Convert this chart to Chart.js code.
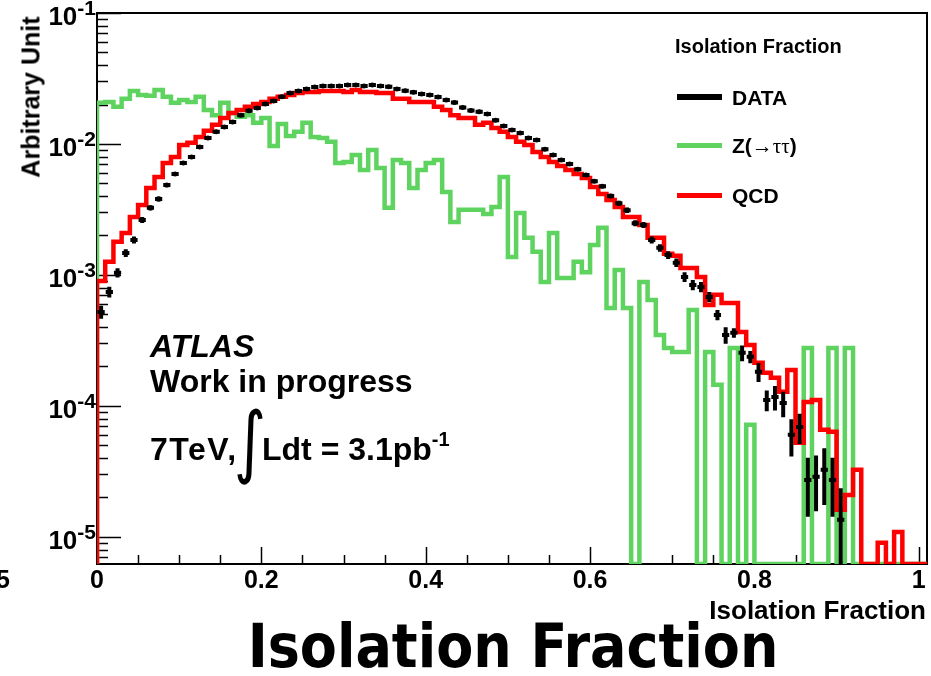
<!DOCTYPE html>
<html>
<head>
<meta charset="utf-8">
<title>Isolation Fraction</title>
<script src="https://cdn.jsdelivr.net/npm/chart.js@4.4.1/dist/chart.umd.min.js"></script>
<style>
  html, body { margin: 0; padding: 0; background: #fff; }
  #wrap {
    position: relative; width: 931px; height: 676px; overflow: hidden;
    font-family: "Liberation Sans", Arial, Helvetica, sans-serif;
    font-weight: bold; color: #000;
  }
  #plot { position: absolute; left: 0; top: 0; }
  .t { position: absolute; white-space: nowrap; line-height: 1; }
  .tick { font-size: 25px; }
  .ytick { font-size: 26px; }
  .ytick sup { font-size: 21px; vertical-align: 0; position: relative; top: -10px; }
  #ytitle { font-size: 25px; width: 200px; left: -69px; top: 104px; text-align: right; transform: rotate(-90deg); }
  #xtitle { font-size: 26px; right: 5px; top: 597px; }
  #bigtitle {
    font-family: "Liberation Sans Narrow", "DejaVu Sans Condensed", "Liberation Sans", sans-serif;
    font-stretch: condensed; font-size: 60px; left: 513px; top: 616px; transform: translateX(-50%);
  }
  #cut5 { font-size: 25px; left: -4px; top: 567px; }
  #leghead { font-size: 20px; left: 675px; top: 36px; }
  .legline { position: absolute; left: 677px; width: 45px; }
  .legtext { font-size: 21px; left: 732px; }
  .serif { font-family: "Liberation Serif", "DejaVu Serif", serif; font-weight: normal; }
  #atlas { font-size: 32px; font-style: italic; left: 150px; top: 330px; }
  #wip { font-size: 32px; left: 150px; top: 365px; }
  #lumi1 { font-size: 32px; left: 150px; top: 433px; letter-spacing: 1.5px; }
  #lumi2 { font-size: 32px; left: 262px; top: 433px; }
  #lumi2 sup { font-size: 20px; vertical-align: 0; position: relative; top: -14px; }
  #integral { font-family: "DejaVu Sans", sans-serif; font-weight: normal; font-size: 62px; left: 234px; top: 402px; transform: scaleY(1.27); transform-origin: 0 0; }
</style>
</head>
<body>
<div id="wrap">
  <canvas id="plot" width="931" height="676"></canvas>
  <div class="t" id="ytitle">Arbitrary Unit</div>
  <div class="t" id="xtitle">Isolation Fraction</div>
  <div class="t" id="bigtitle">Isolation Fraction</div>
  <div class="t" id="cut5">5</div>
  <div class="t" id="leghead">Isolation Fraction</div>
  <div class="t" id="atlas">ATLAS</div>
  <div class="t" id="wip">Work in progress</div>
  <div class="t" id="lumi1">7TeV,</div>
  <div class="t" id="integral">∫</div>
  <div class="t" id="lumi2">Ldt = 3.1pb<sup>-1</sup></div>
</div>
<script>
// 101 bins of width 0.01 starting at 0
const binWidth = 0.01;
const xMax = 1.01;
const yMin = 6.2e-6;
const yMax = 0.1;

const seriesNames = ['DATA', 'Z(→ττ)', 'QCD'];

const dataValues = [
  5.22e-4, 7.42e-4, 1.04e-3, 1.47e-3, 1.85e-3, 2.63e-3, 3.25e-3, 3.80e-3, 4.86e-3, 5.90e-3,
  7.16e-3, 7.96e-3, 9.49e-3, 0.0111, 0.0124, 0.0135, 0.0147, 0.0166, 0.0179, 0.0188,
  0.0202, 0.0213, 0.0229, 0.0245, 0.0254, 0.0263, 0.0272, 0.0277, 0.0277, 0.0277,
  0.0282, 0.0282, 0.0277, 0.0282, 0.0277, 0.0273, 0.0263, 0.0255, 0.0248, 0.0241,
  0.0236, 0.0228, 0.0217, 0.0207, 0.0190, 0.0180, 0.0176, 0.0169, 0.0152, 0.0137,
  0.0128, 0.0121, 0.0111, 0.0107, 9.11e-3, 8.24e-3, 7.55e-3, 7.04e-3, 6.40e-3, 5.80e-3,
  5.20e-3, 4.75e-3, 4.01e-3, 3.53e-3, 3.12e-3, 2.48e-3, 2.41e-3, 1.85e-3, 1.61e-3, 1.42e-3,
  1.24e-3, 9.65e-4, 8.39e-4, 8.10e-4, 6.79e-4, 4.95e-4, 3.48e-4, 3.61e-4, 2.54e-4, 2.37e-4,
  1.82e-4, 1.11e-4, 1.17e-4, 1.05e-4, 6.01e-5, 6.91e-5, 2.72e-5, 2.87e-5, 3.25e-5, 2.72e-5,
  1.35e-5, 0, 0, 0, 0, 0, 0, 0, 0, 0, 0
];

const dataErrors = [
  6.0e-5, 7.1e-5, 8.4e-5, 1.0e-4, 1.12e-4, 1.34e-4, 1.49e-4, 1.61e-4, 1.82e-4, 2.0e-4,
  2.2e-4, 2.33e-4, 2.54e-4, 2.75e-4, 2.9e-4, 3.03e-4, 3.16e-4, 3.36e-4, 3.49e-4, 3.58e-4,
  3.71e-4, 3.81e-4, 3.95e-4, 4.08e-4, 4.16e-4, 4.23e-4, 4.3e-4, 4.34e-4, 4.34e-4, 4.34e-4,
  4.38e-4, 4.38e-4, 4.34e-4, 4.38e-4, 4.34e-4, 4.31e-4, 4.23e-4, 4.16e-4, 4.1e-4, 4.05e-4,
  4.0e-4, 3.94e-4, 3.84e-4, 3.75e-4, 3.6e-4, 3.5e-4, 3.46e-4, 3.39e-4, 3.21e-4, 3.05e-4,
  2.95e-4, 2.87e-4, 2.75e-4, 2.7e-4, 2.49e-4, 2.37e-4, 2.27e-4, 2.19e-4, 2.09e-4, 1.99e-4,
  1.88e-4, 1.8e-4, 1.65e-4, 1.55e-4, 1.46e-4, 1.3e-4, 1.28e-4, 1.12e-4, 1.05e-4, 9.8e-5,
  9.2e-5, 8.1e-5, 7.6e-5, 7.4e-5, 6.0e-5, 4.5e-5, 5.0e-5, 3.0e-5, 3.5e-5, 2.5e-5,
  3.0e-5, 2.0e-5, 2.5e-5, 2.3e-5, 1.9e-5, 1.8e-5, 1.3e-5, 1.3e-5, 1.5e-5, 1.3e-5,
  1.0e-5, 0, 0, 0, 0, 0, 0, 0, 0, 0, 0
];

const qcdValues = [
  9.00e-4, 1.26e-3, 1.79e-3, 2.09e-3, 2.77e-3, 3.42e-3, 4.61e-3, 5.60e-3, 7.16e-3, 7.96e-3,
  9.83e-3, 0.0102, 0.0113, 0.0126, 0.0140, 0.0158, 0.0172, 0.0182, 0.0192, 0.0202,
  0.0209, 0.0221, 0.0229, 0.0237, 0.0245, 0.0249, 0.0249, 0.0254, 0.0254, 0.0254,
  0.0249, 0.0258, 0.0249, 0.0249, 0.0245, 0.0245, 0.0221, 0.0221, 0.0209, 0.0209,
  0.0209, 0.0192, 0.0182, 0.0166, 0.0158, 0.0158, 0.0140, 0.0145, 0.01325, 0.0124,
  0.0113, 0.0104, 9.83e-3, 8.69e-3, 7.96e-3, 7.29e-3, 6.79e-3, 6.33e-3, 5.90e-3, 5.50e-3,
  4.70e-3, 4.15e-3, 3.74e-3, 3.30e-3, 2.77e-3, 2.77e-3, 2.41e-3, 1.92e-3, 1.92e-3, 1.45e-3,
  1.40e-3, 1.13e-3, 1.13e-3, 9.65e-4, 5.90e-4, 7.04e-4, 6.11e-4, 6.11e-4, 3.67e-4, 2.92e-4,
  2.13e-4, 1.79e-4, 1.64e-4, 1.28e-4, 1.88e-4, 5.22e-5, 1.07e-4, 1.11e-4, 6.56e-5, 6.33e-5,
  1.61e-5, 2.09e-5, 3.25e-5, 0, 0, 9.0e-6, 0, 1.09e-5, 0, 0, 0
];

const ztautauValues = [
  0.0206, 0.0209, 0.0192, 0.0221, 0.0254, 0.0237, 0.0233, 0.0258, 0.0229, 0.0206,
  0.0217, 0.0209, 0.0229, 0.0182, 0.0166, 0.0206, 0.0172, 0.0161, 0.0166, 0.0145,
  0.0158, 9.65e-3, 0.0142, 0.0115, 0.0124, 0.0145, 0.0113, 0.0111, 0.0104, 7.16e-3,
  7.29e-3, 8.24e-3, 6.33e-3, 9.00e-3, 6.56e-3, 3.25e-3, 7.55e-3, 7.16e-3, 4.61e-3, 6.33e-3,
  7.16e-3, 7.55e-3, 4.30e-3, 2.54e-3, 3.14e-3, 3.14e-3, 3.14e-3, 2.92e-3, 3.30e-3, 5.60e-3,
  1.37e-3, 2.97e-3, 1.92e-3, 1.50e-3, 8.84e-4, 2.09e-3, 9.49e-4, 9.49e-4, 1.26e-3, 1.05e-3,
  1.69e-3, 2.29e-3, 5.60e-4, 1.09e-3, 5.60e-4, 0, 8.84e-4, 6.44e-4, 3.48e-4, 2.77e-4,
  2.58e-4, 2.58e-4, 5.40e-4, 0, 2.58e-4, 1.45e-4, 0, 2.77e-4, 0, 7.16e-5,
  0, 0, 0, 0, 0, 0, 2.77e-4, 0, 0, 2.77e-4,
  0, 2.77e-4, 0, 0, 0, 0, 0, 0, 0, 0, 0
];

const xTickValues = [0, 0.2, 0.4, 0.6, 0.8, 1];
const xTickLabels = ['0', '0.2', '0.4', '0.6', '0.8', '1'];
const yTickExponents = [-1, -2, -3, -4, -5];

const colData = '#000000';
const colZ = '#5fd35f';
const colQcd = '#ff0000';

// ROOT-style outline: rise from the floor at x=0, step across every bin, drop back at the end
function stepPoints(values) {
  const pts = [{x: 0, y: yMin}];
  values.forEach((v, i) => pts.push({x: i * binWidth, y: Math.max(v, yMin)}));
  const last = values.length * binWidth;
  pts.push({x: last, y: Math.max(values[values.length - 1], yMin)});
  pts.push({x: last, y: yMin});
  return pts;
}

function centrePoints(values) {
  return values
    .map((v, i) => ({x: (i + 0.5) * binWidth, y: v}))
    .filter(p => p.y > 0);
}

// frame plus inward ticks, drawn under the histograms
const frameTicks = {
  id: 'frameTicks',
  beforeDatasetsDraw(chart) {
    const {ctx, chartArea: a, scales: {x, y}} = chart;
    ctx.save();
    ctx.strokeStyle = '#000';
    ctx.lineWidth = 2;
    ctx.strokeRect(a.left, a.top, a.right - a.left, a.bottom - a.top);
    ctx.beginPath();
    for (let i = 0; i <= 20; i++) {
      const px = Math.round(x.getPixelForValue(i * 0.05)) + 0.5;
      const len = i % 4 === 0 ? 17 : 9;
      ctx.moveTo(px, a.bottom);
      ctx.lineTo(px, a.bottom - len);
    }
    for (let k = -6; k <= -1; k++) {
      for (let m = 1; m <= 9; m++) {
        const v = m * Math.pow(10, k);
        if (v < yMin || v > yMax) continue;
        const py = Math.round(y.getPixelForValue(v)) + 0.5;
        ctx.moveTo(a.left, py);
        ctx.lineTo(a.left + (m === 1 ? 24 : 11), py);
      }
    }
    ctx.lineWidth = 1.5;
    ctx.stroke();
    ctx.restore();
  }
};

// data: x error = bin width, y error from dataErrors
const dataBars = {
  id: 'dataBars',
  afterDatasetsDraw(chart) {
    const {ctx, chartArea: a, scales: {x, y}} = chart;
    ctx.save();
    ctx.beginPath();
    ctx.rect(a.left, a.top, a.right - a.left, a.bottom - a.top);
    ctx.clip();
    ctx.strokeStyle = colData;
    ctx.lineWidth = 4;
    dataValues.forEach((v, i) => {
      if (v <= 0) return;
      const x0 = x.getPixelForValue(i * binWidth);
      const x1 = x.getPixelForValue((i + 1) * binWidth);
      const xc = (x0 + x1) / 2;
      const py = y.getPixelForValue(v);
      const hi = y.getPixelForValue(v + dataErrors[i]);
      const lo = y.getPixelForValue(Math.max(v - dataErrors[i], yMin));
      ctx.beginPath();
      ctx.moveTo(x0 + 0.5, py);
      ctx.lineTo(x1 - 0.5, py);
      ctx.moveTo(xc, hi);
      ctx.lineTo(xc, lo);
      ctx.stroke();
    });
    ctx.restore();
  }
};

// tick labels and legend placed as page text at the scale positions
const pageLabels = {
  id: 'pageLabels',
  afterRender(chart) {
    if (chart.$labelsDone) return;
    chart.$labelsDone = true;
    const wrap = document.getElementById('wrap');
    const {chartArea: a, scales: {x, y}} = chart;
    xTickValues.forEach((v, i) => {
      const el = document.createElement('div');
      el.className = 't tick';
      el.textContent = xTickLabels[i];
      el.style.left = x.getPixelForValue(v) + 'px';
      el.style.top = (a.bottom + 3) + 'px';
      el.style.transform = 'translateX(-50%)';
      wrap.appendChild(el);
    });
    yTickExponents.forEach(k => {
      const el = document.createElement('div');
      el.className = 't ytick';
      el.innerHTML = '10<sup>' + k + '</sup>';
      el.style.right = (931 - a.left + 1) + 'px';
      el.style.top = (y.getPixelForValue(Math.pow(10, k)) - 10) + 'px';
      wrap.appendChild(el);
    });
    const legend = [
      {name: seriesNames[0], color: colData, y: 97, h: 6},
      {name: seriesNames[1], color: colZ, y: 145, h: 5},
      {name: seriesNames[2], color: colQcd, y: 195, h: 5}
    ];
    legend.forEach(item => {
      const line = document.createElement('div');
      line.className = 'legline';
      line.style.top = (item.y - item.h / 2) + 'px';
      line.style.height = item.h + 'px';
      line.style.background = item.color;
      wrap.appendChild(line);
      const txt = document.createElement('div');
      txt.className = 't legtext';
      txt.style.top = (item.y - 10.5) + 'px';
      if (item.name.startsWith('Z(')) {
        txt.innerHTML = 'Z(<span class="serif">→ττ</span>)';
      } else {
        txt.textContent = item.name;
      }
      wrap.appendChild(txt);
    });
  }
};

new Chart(document.getElementById('plot'), {
  type: 'line',
  data: {
    datasets: [
      {
        label: seriesNames[0],
        data: centrePoints(dataValues),
        showLine: false,
        pointRadius: 2.5,
        pointBorderWidth: 0,
        pointBackgroundColor: colData
      },
      {
        label: seriesNames[2],
        data: stepPoints(qcdValues),
        stepped: true,
        borderColor: colQcd,
        borderWidth: 4.5,
        pointRadius: 0,
        fill: false
      },
      {
        label: seriesNames[1],
        data: stepPoints(ztautauValues),
        stepped: true,
        borderColor: colZ,
        borderWidth: 4.5,
        pointRadius: 0,
        fill: false
      }
    ]
  },
  options: {
    responsive: false,
    animation: false,
    devicePixelRatio: 1,
    parsing: false,
    layout: { padding: { left: 97, right: 4, top: 13, bottom: 112 } },
    plugins: { legend: { display: false }, tooltip: { enabled: false } },
    scales: {
      x: { type: 'linear', min: 0, max: xMax, display: false },
      y: { type: 'logarithmic', min: yMin, max: yMax, display: false }
    }
  },
  plugins: [frameTicks, dataBars, pageLabels]
});
</script>
</body>
</html>
